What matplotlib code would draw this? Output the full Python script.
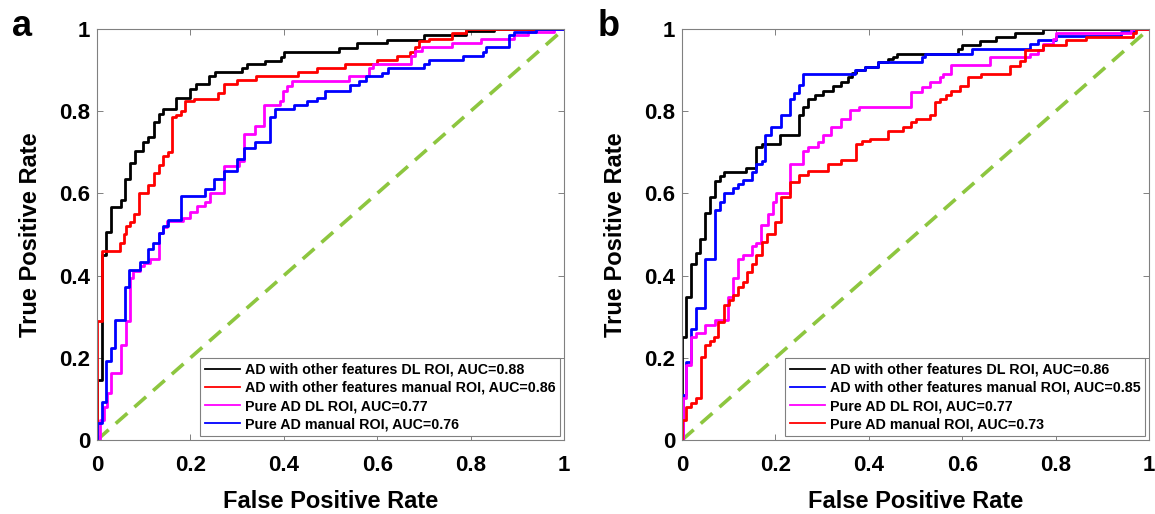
import matplotlib
matplotlib.use("Agg")
import matplotlib.pyplot as plt

# ROC curves: fpr where each step rises, tpr level after it
a_dl_fpr = [0, 0.01, 0.019, 0.03, 0.051, 0.060, 0.071, 0.082, 0.099, 0.110, 0.121, 0.132, 0.141, 0.170, 0.200,
            0.212, 0.239, 0.253, 0.310, 0.321, 0.360, 0.393, 0.400, 0.518, 0.557, 0.620, 0.700, 0.790, 0.850]
a_dl_tpr = [0.146, 0.45, 0.505, 0.566, 0.585, 0.634, 0.675, 0.703, 0.724, 0.737, 0.774, 0.793, 0.805, 0.833, 0.854,
            0.866, 0.886, 0.896, 0.905, 0.915, 0.923, 0.933, 0.943, 0.953, 0.965, 0.974, 0.985, 0.995, 1.0]

a_man_fpr = [0, 0.01, 0.049, 0.057, 0.063, 0.071, 0.080, 0.090, 0.110, 0.121, 0.132, 0.141, 0.151, 0.160, 0.170,
             0.180, 0.189, 0.207, 0.260, 0.271, 0.300, 0.340, 0.430, 0.471, 0.532, 0.600, 0.643, 0.670, 0.682, 0.690,
             0.711, 0.761, 0.790]
a_man_tpr = [0.29, 0.46, 0.48, 0.50, 0.52, 0.53, 0.55, 0.60, 0.62, 0.65, 0.67, 0.69, 0.70, 0.785, 0.79,
             0.80, 0.825, 0.83, 0.845, 0.866, 0.876, 0.886, 0.896, 0.905, 0.915, 0.925, 0.935, 0.945, 0.956, 0.97,
             0.976, 0.99, 1.0]

a_pdl_fpr = [0.006, 0.014, 0.021, 0.029, 0.051, 0.062, 0.071, 0.078, 0.091, 0.101, 0.114, 0.132, 0.141, 0.150, 0.185,
             0.200, 0.214, 0.232, 0.243, 0.271, 0.305, 0.314, 0.339, 0.358, 0.391, 0.398, 0.407, 0.418, 0.539, 0.582,
             0.592, 0.672, 0.682, 0.697, 0.761, 0.822, 0.893, 0.922, 0.979]
a_pdl_tpr = [0.049, 0.081, 0.114, 0.163, 0.232, 0.289, 0.395, 0.41, 0.423, 0.431, 0.44, 0.504, 0.518, 0.532, 0.54,
             0.555, 0.569, 0.58, 0.60, 0.667, 0.68, 0.744, 0.764, 0.815, 0.825, 0.85, 0.862, 0.874, 0.885, 0.904,
             0.915, 0.935, 0.947, 0.955, 0.966, 0.976, 0.985, 0.993, 1.0]

a_pman_fpr = [0, 0.010, 0.019, 0.029, 0.039, 0.060, 0.069, 0.091, 0.110, 0.120, 0.132, 0.141, 0.151, 0.180, 0.232,
              0.251, 0.271, 0.300, 0.314, 0.339, 0.371, 0.382, 0.421, 0.450, 0.471, 0.489, 0.541, 0.561, 0.575, 0.611,
              0.623, 0.700, 0.711, 0.783, 0.826, 0.833, 0.883, 0.893, 0.940]
a_pman_tpr = [0.041, 0.093, 0.191, 0.224, 0.293, 0.372, 0.413, 0.432, 0.465, 0.48, 0.504, 0.52, 0.535, 0.593, 0.61,
              0.634, 0.654, 0.683, 0.711, 0.724, 0.785, 0.805, 0.815, 0.825, 0.833, 0.85, 0.863, 0.874, 0.885, 0.894,
              0.905, 0.915, 0.925, 0.935, 0.945, 0.955, 0.985, 0.993, 1.0]

b_dl_fpr = [0, 0.009, 0.019, 0.029, 0.038, 0.050, 0.059, 0.070, 0.081, 0.090, 0.138, 0.159, 0.171, 0.209, 0.250,
            0.259, 0.270, 0.284, 0.302, 0.323, 0.341, 0.355, 0.363, 0.373, 0.391, 0.420, 0.441, 0.452, 0.461, 0.591,
            0.600, 0.639, 0.672, 0.712, 0.773]
b_dl_tpr = [0.251, 0.348, 0.429, 0.454, 0.49, 0.552, 0.591, 0.63, 0.642, 0.652, 0.662, 0.713, 0.721, 0.741, 0.79,
            0.81, 0.83, 0.84, 0.85, 0.862, 0.871, 0.883, 0.892, 0.90, 0.908, 0.919, 0.926, 0.933, 0.94, 0.952,
            0.96, 0.97, 0.98, 0.99, 1.0]

b_man_fpr = [0.002, 0.009, 0.019, 0.029, 0.050, 0.070, 0.081, 0.090, 0.109, 0.120, 0.131, 0.150, 0.159, 0.171, 0.178,
             0.191, 0.211, 0.231, 0.240, 0.250, 0.259, 0.370, 0.391, 0.420, 0.513, 0.521, 0.620, 0.745, 0.762, 0.800,
             0.941, 0.969]
b_man_tpr = [0.109, 0.19, 0.27, 0.32, 0.441, 0.559, 0.579, 0.60, 0.612, 0.622, 0.632, 0.652, 0.672, 0.68, 0.741,
             0.761, 0.79, 0.83, 0.845, 0.863, 0.891, 0.90, 0.908, 0.92, 0.933, 0.94, 0.952, 0.964, 0.972, 0.984,
             0.992, 1.0]

b_pdl_fpr = [0.002, 0.009, 0.019, 0.029, 0.050, 0.070, 0.099, 0.109, 0.120, 0.131, 0.150, 0.159, 0.170, 0.185, 0.195,
             0.202, 0.231, 0.259, 0.270, 0.291, 0.302, 0.320, 0.341, 0.359, 0.380, 0.491, 0.513, 0.530, 0.552, 0.559,
             0.577, 0.659, 0.745, 0.762, 0.773, 0.794, 0.800, 0.962]
b_pdl_tpr = [0.102, 0.182, 0.251, 0.26, 0.28, 0.292, 0.348, 0.393, 0.441, 0.45, 0.471, 0.48, 0.522, 0.55, 0.58,
             0.60, 0.671, 0.702, 0.713, 0.725, 0.741, 0.761, 0.782, 0.802, 0.81, 0.846, 0.858, 0.87, 0.882, 0.89,
             0.912, 0.931, 0.94, 0.949, 0.963, 0.975, 0.99, 1.0]

b_pman_fpr = [0, 0.009, 0.019, 0.029, 0.040, 0.050, 0.060, 0.069, 0.077, 0.090, 0.100, 0.109, 0.120, 0.131, 0.140,
              0.150, 0.159, 0.171, 0.181, 0.199, 0.211, 0.231, 0.250, 0.270, 0.313, 0.341, 0.373, 0.385, 0.402, 0.441,
              0.473, 0.491, 0.502, 0.530, 0.541, 0.552, 0.566, 0.577, 0.595, 0.612, 0.641, 0.702, 0.723, 0.734, 0.773,
              0.823, 0.866, 0.966, 0.973]
b_pman_tpr = [0.049, 0.081, 0.09, 0.101, 0.202, 0.231, 0.24, 0.251, 0.287, 0.328, 0.34, 0.353, 0.373, 0.385, 0.409,
              0.429, 0.45, 0.482, 0.502, 0.53, 0.591, 0.628, 0.644, 0.655, 0.672, 0.682, 0.721, 0.728, 0.733, 0.753,
              0.761, 0.773, 0.782, 0.79, 0.822, 0.83, 0.84, 0.85, 0.862, 0.883, 0.89, 0.911, 0.922, 0.948, 0.96,
              0.972, 0.98, 0.99, 1.0]

labels_a = ["AD with other features DL ROI, AUC=0.88",
            "AD with other features manual ROI, AUC=0.86",
            "Pure AD DL ROI, AUC=0.77",
            "Pure AD manual ROI, AUC=0.76"]
labels_b = ["AD with other features DL ROI, AUC=0.86",
            "AD with other features manual ROI, AUC=0.85",
            "Pure AD DL ROI, AUC=0.77",
            "Pure AD manual ROI, AUC=0.73"]

ticks = [0, 0.2, 0.4, 0.6, 0.8, 1]
tick_labels = ["0", "0.2", "0.4", "0.6", "0.8", "1"]

plt.rcParams['font.family'] = ['Liberation Sans', 'DejaVu Sans']
plt.rcParams['font.weight'] = 'bold'


def roc(ax, fpr, tpr, color, label):
    xs = [0] + fpr + [1]
    ys = [0] + tpr + [1]
    ax.step(xs, ys, where='post', color=color, lw=2.0, label=label)


def style(ax, curves, labels):
    for (f, t, c), lab in zip(curves, labels):
        roc(ax, f, t, c, lab)
    ax.plot([0, 1], [0, 1], color='#8dc63f', lw=2.6, dashes=(4.3, 2.6), zorder=1)
    ax.set_xlim(0, 1)
    ax.set_ylim(0, 1)
    ax.set_xticks(ticks)
    ax.set_xticklabels(tick_labels)
    ax.set_yticks(ticks)
    ax.set_yticklabels(tick_labels)
    ax.tick_params(direction='in', length=4, width=0.7, color='0.5', labelsize=16,
                   top=True, right=True)
    ax.tick_params(axis='x', pad=11)
    ax.tick_params(axis='y', pad=5)
    for sp in ax.spines.values():
        sp.set_color('0.5')
        sp.set_linewidth(0.8)
    ax.set_xlabel("False Positive Rate", fontsize=17, fontweight='bold', labelpad=10)
    ax.set_ylabel("True Positive Rate", fontsize=17, fontweight='bold', labelpad=12)
    leg = ax.legend(loc='lower right', fontsize=10.3, frameon=True, fancybox=False,
                    edgecolor='0.5', framealpha=1, borderaxespad=0.25, borderpad=0.35,
                    labelspacing=0.3, handlelength=2.5, handletextpad=0.3)
    leg.get_frame().set_linewidth(0.8)
    for ln in leg.get_lines():
        ln.set_linewidth(1.3)


fig = plt.figure(figsize=(11.55, 5.14), dpi=100)
ax_a = fig.add_axes([0.084, 0.144, 0.4043, 0.7996])
ax_b = fig.add_axes([0.5905, 0.144, 0.4043, 0.7996])

style(ax_a, [(a_dl_fpr, a_dl_tpr, 'k'), (a_man_fpr, a_man_tpr, '#ff0000'),
             (a_pdl_fpr, a_pdl_tpr, '#ff00ff'), (a_pman_fpr, a_pman_tpr, '#0000ff')], labels_a)
style(ax_b, [(b_dl_fpr, b_dl_tpr, 'k'), (b_man_fpr, b_man_tpr, '#0000ff'),
             (b_pdl_fpr, b_pdl_tpr, '#ff00ff'), (b_pman_fpr, b_pman_tpr, '#ff0000')], labels_b)

fig.text(12 / 1155, 1 - 36 / 514, "a", fontsize=26, fontweight='bold', va='baseline')
fig.text(598 / 1155, 1 - 36 / 514, "b", fontsize=26, fontweight='bold', va='baseline')

fig.savefig("out.png", dpi=100)
